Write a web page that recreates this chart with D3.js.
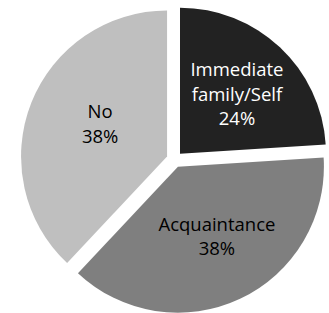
<!DOCTYPE html>
<html>
<head>
<meta charset="utf-8">
<script src="https://cdn.jsdelivr.net/npm/d3@7"></script>
<style>
  body { margin: 0; background: #fff; }
</style>
</head>
<body>
<script>
var width = 329;
var height = 313;

var categories = ["Immediate family/Self", "Acquaintance", "No"];
var labelLines = [["Immediate", "family/Self"], ["Acquaintance"], ["No"]];
var values = [24, 38, 38];
var colors = ["#222222", "#7f7f7f", "#bfbfbf"];
var textColors = ["#ffffff", "#000000", "#000000"];

var cx = 174.5, cy = 159.5;
var radius = 146;
var explode = 8;
// label placement tweaks (distance from exploded apex, angle shift in degrees)
var labelR = [82.5, 80, 74.5];
var labelShift = [0.5, -4, 4.4];

var svg = d3.select("body").append("svg")
    .attr("width", width)
    .attr("height", height);

var pie = d3.pie().sort(null).value(function(d){ return d; });
var arcs = pie(values);

var arc = d3.arc().innerRadius(0).outerRadius(radius);

var g = svg.append("g").attr("transform", "translate(" + cx + "," + cy + ")");

var slices = g.selectAll("g.slice")
    .data(arcs)
    .enter()
    .append("g")
        .attr("class", "slice")
        .attr("transform", function(d){
            var mid = (d.startAngle + d.endAngle) / 2;
            return "translate(" + (Math.sin(mid) * explode) + "," + (-Math.cos(mid) * explode) + ")";
        });

slices.append("path")
    .attr("d", arc)
    .attr("fill", function(d, i){ return colors[i]; });

var lineH = 24.5;
slices.each(function(d, i){
    var a = (d.startAngle + d.endAngle) / 2 + labelShift[i] * Math.PI / 180;
    var c = [Math.sin(a) * labelR[i], -Math.cos(a) * labelR[i]];
    var lines = labelLines[i].concat([values[i] + "%"]);
    var top = c[1] - (lines.length - 1) * lineH / 2;
    var t = d3.select(this).append("text")
        .attr("text-anchor", "middle")
        .attr("font-family", "'Open Sans', sans-serif")
        .attr("font-size", "18.5px")
        .attr("fill", textColors[i]);
    lines.forEach(function(s, k){
        t.append("tspan")
            .attr("x", c[0])
            .attr("y", top + k * lineH)
            .attr("dy", "0.35em")
            .text(s);
    });
});
</script>
</body>
</html>
